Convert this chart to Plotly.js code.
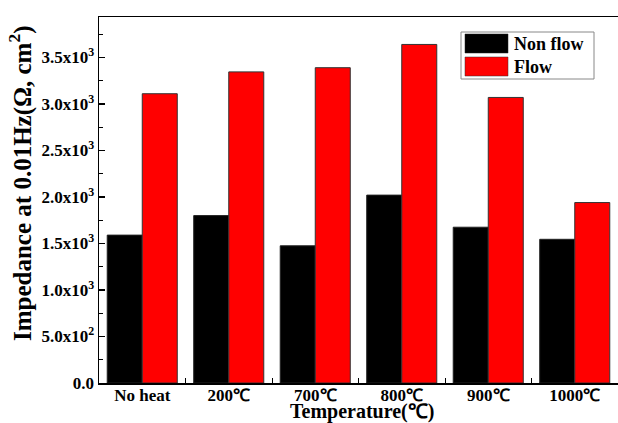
<!DOCTYPE html>
<html>
<head>
<meta charset="utf-8">
<script src="https://cdn.plot.ly/plotly-3.0.1.min.js"></script>
<style>html,body{margin:0;padding:0;background:#fff;}#chart{width:618px;height:423px;}</style>
</head>
<body>
<div id="chart"></div>
<script>
const categories = ["No heat", "200℃", "700℃", "800℃", "900℃", "1000℃"];
const nonFlow = [1590, 1800, 1475, 2020, 1675, 1545];
const flow = [3110, 3345, 3390, 3640, 3070, 1940];
const seriesNames = ["Non flow", "Flow"];
const yTickVals = [0, 500, 1000, 1500, 2000, 2500, 3000, 3500];
const yTickText = ["0.0", "5.0x10<sup>2</sup>", "1.0x10<sup>3</sup>", "1.5x10<sup>3</sup>", "2.0x10<sup>3</sup>", "2.5x10<sup>3</sup>", "3.0x10<sup>3</sup>", "3.5x10<sup>3</sup>"];
const xTitle = "Temperature(℃)";
const yTitle = "Impedance at 0.01Hz(Ω, cm<sup>2</sup>)";

const W = 618, H = 423, ML = 99, MR = 0, MT = 17, MB = 40;
const pw = W - ML - MR, ph = H - MT - MB;
const px = x => (x - ML) / pw;
const py = y => (H - MB - y) / ph;
const font = "Liberation Serif, Times New Roman, serif";

const traces = [
  {type: "bar", name: seriesNames[0], x: categories, y: nonFlow,
   marker: {color: "#000000", line: {color: "#222", width: 1}}},
  {type: "bar", name: seriesNames[1], x: categories, y: flow,
   marker: {color: "#ff0000", line: {color: "#333", width: 1}}}
];

const shapes = [
  {type: "rect", xref: "paper", yref: "paper", x0: px(461), x1: px(594), y0: py(32), y1: py(79),
   line: {color: "#888", width: 1}, fillcolor: "rgba(0,0,0,0)"},
  {type: "rect", xref: "paper", yref: "paper", x0: px(465), x1: px(508), y0: py(34), y1: py(53),
   line: {color: "#222", width: 0.5}, fillcolor: "#000000"},
  {type: "rect", xref: "paper", yref: "paper", x0: px(465), x1: px(508), y0: py(57), y1: py(76),
   line: {color: "#333", width: 0.5}, fillcolor: "#ff0000"}
];
const annotations = [
  {xref: "paper", yref: "paper", x: px(512), y: py(44), xanchor: "left", yanchor: "middle", showarrow: false,
   text: "<b>" + seriesNames[0] + "</b>", font: {family: font, size: 18, color: "#000"}},
  {xref: "paper", yref: "paper", x: px(512), y: py(67), xanchor: "left", yanchor: "middle", showarrow: false,
   text: "<b>" + seriesNames[1] + "</b>", font: {family: font, size: 18, color: "#000"}},
  {xref: "paper", yref: "paper", x: px(362), y: py(411), xanchor: "center", yanchor: "middle", showarrow: false,
   text: "<b>" + xTitle + "</b>", font: {family: font, size: 20, color: "#000"}},
  {xref: "paper", yref: "paper", x: px(21), y: py(183), xanchor: "center", yanchor: "middle", showarrow: false,
   textangle: -90, text: "<b>" + yTitle + "</b>", font: {family: font, size: 25, color: "#000"}}
];

const layout = {
  width: W, height: H,
  margin: {l: ML, r: MR, t: MT, b: MB, pad: 0},
  paper_bgcolor: "#fff", plot_bgcolor: "#fff",
  barmode: "group", bargap: 0.19, bargroupgap: 0,
  showlegend: false,
  font: {family: font, color: "#000"},
  xaxis: {
    type: "category", range: [-0.5, 5.5],
    showline: true, linecolor: "#000", linewidth: 1.5, mirror: true,
    ticks: "inside", tickson: "boundaries", ticklen: 5, tickwidth: 1, tickcolor: "#000",
    showgrid: false, zeroline: false, ticklabelstandoff: -4,
    tickfont: {family: font, size: 17, color: "#000", weight: "bold"}
  },
  yaxis: {
    range: [0, 3935],
    tickvals: yTickVals, ticktext: yTickText,
    showline: true, linecolor: "#000", linewidth: 1.5, mirror: true,
    ticks: "inside", ticklen: 6, tickwidth: 1.2, tickcolor: "#000",
    minor: {dtick: 250, ticks: "inside", ticklen: 4, tickwidth: 1, tickcolor: "#000"},
    showgrid: false, zeroline: false,
    tickfont: {family: font, size: 17, color: "#000", weight: "bold"}
  },
  shapes: shapes,
  annotations: annotations
};

Plotly.newPlot("chart", traces, layout, {displayModeBar: false, staticPlot: true});
</script>
</body>
</html>
